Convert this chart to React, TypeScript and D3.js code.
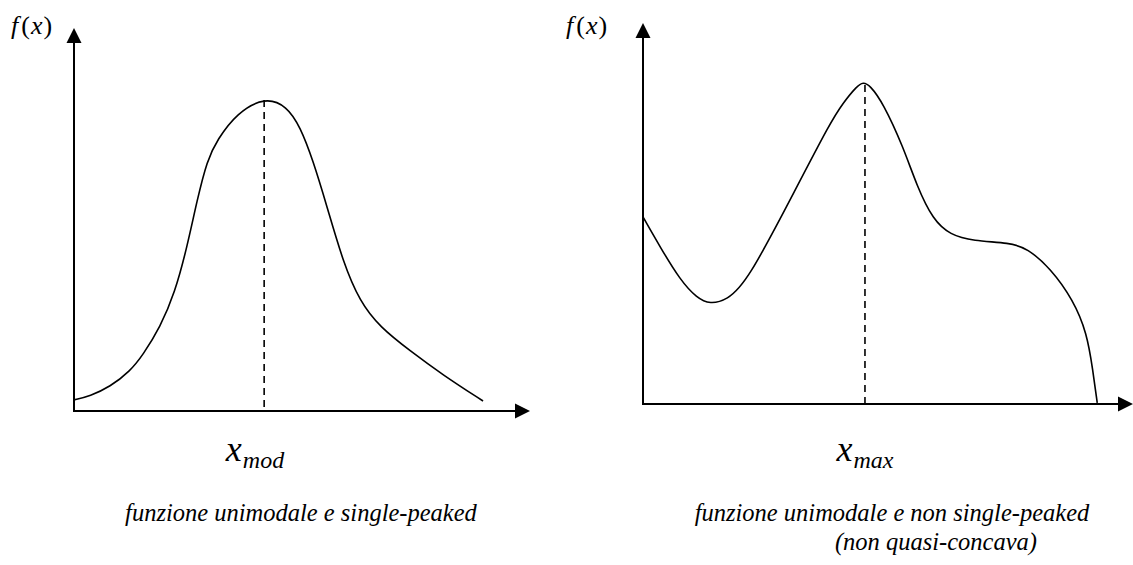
import React from "react";
import * as d3 from "d3";

// Left panel: unimodal, single-peaked
const leftX = [0, 0.35, 0.79, 1.23, 1.51, 1.89, 2.21, 2.48, 2.7, 2.92, 3.14, 3.57, 4.19, 4.67, 4.96, 5.24, 5.55, 5.9, 6.27, 6.71, 7.37, 8.09, 8.97];
const leftY = [0.29, 0.39, 0.63, 1.04, 1.46, 2.19, 3.08, 4.28, 5.51, 6.55, 7.08, 7.78, 8.2, 7.96, 7.42, 6.55, 5.33, 3.89, 2.85, 2.19, 1.57, 0.94, 0.26];
const leftMode = 4.17;

// Right panel: unimodal, not single-peaked
const rightX = [0, 0.35, 0.76, 1.1, 1.37, 1.71, 2.12, 3.14, 3.82, 4.08, 4.37, 4.49, 4.63, 4.9, 5.31, 5.59, 5.92, 6.27, 6.73, 7.49, 7.84, 8.31, 8.78, 9.06, 9.18, 9.27];
const rightY = [4.91, 4.12, 3.25, 2.78, 2.62, 2.73, 3.18, 5.7, 7.38, 7.9, 8.35, 8.45, 8.37, 7.9, 6.75, 5.72, 4.83, 4.44, 4.28, 4.23, 4.09, 3.57, 2.73, 1.86, 0.89, 0.03];
const rightMax = 4.53;

const leftSub = "mod";
const rightSub = "max";
const leftCaption = ["funzione unimodale e single-peaked"];
const rightCaption = ["funzione unimodale e non single-peaked", "(non quasi-concava)"];

const SERIF = '"Liberation Serif", "Noto Serif", "DejaVu Serif", "Times New Roman", Times, serif';

type PanelProps = {
  xs: number[];
  ys: number[];
  peak: number;
  xRange: [number, number];
  yRange: [number, number];
  sub: string;
  labelX: number;
  fxX: number;
  fxY: number;
  caption: string[];
  captionX: number[];
};

function Panel(p: PanelProps) {
  const x = d3.scaleLinear().domain([0, 10]).range(p.xRange);
  const y = d3.scaleLinear().domain([0, 10]).range(p.yRange);
  const pts: [number, number][] = p.xs.map((v, i) => [v, p.ys[i]]);
  const line = d3
    .line<[number, number]>()
    .x((d) => x(d[0]))
    .y((d) => y(d[1]))
    .curve(d3.curveBasis);
  const x0 = x(0);
  const y0 = y(0);
  const xEnd = x(10);
  const yEnd = y(10);
  const ah = 15;
  const aw = 7.5;
  const peakY = p.ys[d3.maxIndex(p.ys)];
  return (
    <g>
      <line x1={x0} x2={x0} y1={y0 + 1} y2={yEnd + ah} stroke="#000" strokeWidth={2} />
      <path d={`M${x0},${yEnd} L${x0 - aw},${yEnd + ah} L${x0 + aw},${yEnd + ah} Z`} fill="#000" />
      <line x1={x0 - 1} x2={xEnd - ah} y1={y0} y2={y0} stroke="#000" strokeWidth={2} />
      <path d={`M${xEnd},${y0} L${xEnd - ah},${y0 - aw} L${xEnd - ah},${y0 + aw} Z`} fill="#000" />
      <line
        x1={x(p.peak)}
        x2={x(p.peak)}
        y1={y(peakY) + 3}
        y2={y0}
        stroke="#000"
        strokeWidth={1.6}
        strokeDasharray="7,5"
      />
      <path d={line(pts) || ""} fill="none" stroke="#000" strokeWidth={1.6} />
      <text x={p.fxX} y={p.fxY} style={{ fontFamily: SERIF, fontSize: 26 }}>
        <tspan style={{ fontStyle: "italic" }}>f</tspan>
        <tspan dx={3}>(</tspan>
        <tspan dx={1} style={{ fontStyle: "italic" }}>x</tspan>
        <tspan dx={1}>)</tspan>
      </text>
      <text
        x={p.labelX}
        y={461}
        textAnchor="middle"
        style={{ fontFamily: SERIF, fontStyle: "italic", fontSize: 36 }}
      >
        x
        <tspan dy={7} dx={1} style={{ fontSize: 24 }}>
          {p.sub}
        </tspan>
      </text>
      {p.caption.map((c, i) => (
        <text
          key={i}
          x={p.captionX[i]}
          y={521 + i * 29}
          textAnchor="middle"
          style={{ fontFamily: SERIF, fontStyle: "italic", fontSize: 24.5 }}
        >
          {c}
        </text>
      ))}
    </g>
  );
}

export default function App() {
  return (
    <svg width={1133} height={565} style={{ position: "absolute", left: 0, top: 0, background: "#fff" }}>
      <rect width={1133} height={565} fill="#fff" />
      <Panel
        xs={leftX}
        ys={leftY}
        peak={leftMode}
        xRange={[74, 530]}
        yRange={[411, 28]}
        sub={leftSub}
        labelX={255}
        fxX={11}
        fxY={34}
        caption={leftCaption}
        captionX={[301]}
      />
      <Panel
        xs={rightX}
        ys={rightY}
        peak={rightMax}
        xRange={[643, 1133]}
        yRange={[404, 23]}
        sub={rightSub}
        labelX={865}
        fxX={566}
        fxY={34}
        caption={rightCaption}
        captionX={[892, 936]}
      />
    </svg>
  );
}
